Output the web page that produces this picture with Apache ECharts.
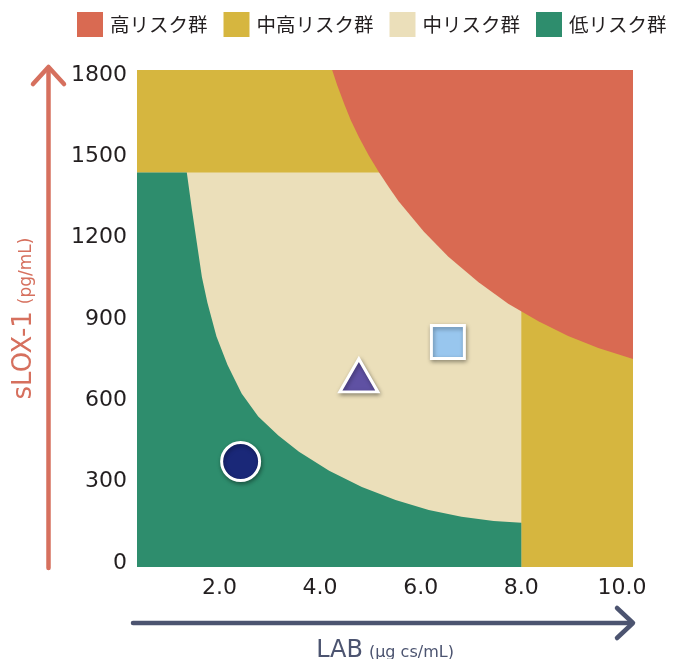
<!DOCTYPE html>
<html><head><meta charset="utf-8">
<script src="https://cdn.jsdelivr.net/npm/echarts@6/dist/echarts.min.js"></script>
<style>html,body{margin:0;padding:0;background:#fff}#c{width:674px;height:659px}</style>
</head><body><div id="c"></div>
<script>
// ---- categories / legend ----
const regionNames = ['高リスク群', '中高リスク群', '中リスク群', '低リスク群'];
const regionColors = ['#d96a52', '#d6b63f', '#ebdfba', '#2e8d6d'];

// ---- axis ----
const X_MIN = 0.36, X_MAX = 10.22, Y_MIN = -15, Y_MAX = 1818;
const xTicks = [2, 4, 6, 8, 10];
const yTicks = [0, 300, 600, 900, 1200, 1500, 1800];

// ---- region boundaries (LAB, sLOX-1) ----
const midRiskTop = 1440;      // upper limit of 中/低 risk bands
const midRiskRight = 8.0;     // LAB limit of 中/低 risk bands
const highRiskCurve = [
  [4.24, 1818], [4.34, 1762], [4.48, 1693], [4.61, 1633], [4.77, 1571],
  [4.97, 1502], [5.17, 1441], [5.37, 1385], [5.56, 1334], [6.06, 1222],
  [6.55, 1129], [7.15, 1035], [7.74, 956], [8.34, 891], [8.93, 837],
  [9.53, 793], [10.22, 752]
];
const lowRiskCurve = [
  [1.35, 1440], [1.45, 1305], [1.55, 1180], [1.65, 1055], [1.76, 960],
  [1.94, 835], [2.16, 730], [2.44, 625], [2.77, 540], [3.17, 470],
  [3.58, 410], [4.18, 340], [4.83, 280], [5.50, 232], [6.16, 195],
  [6.81, 170], [7.45, 155], [8.00, 148]
];

// ---- sample points ----
const pointX = [2.42, 4.77, 6.54];
const pointY = [374, 692, 815];
const pointSymbols = ['circle', 'triangle', 'rect'];
const pointColors = ['#1a2878', '#5f51a3', '#98c6ee'];
const pointSizes = [[38, 38], [38, 33], [33, 33]];

// polygons built from the arrays above
const polyHighMid = [[X_MIN, Y_MIN], [X_MAX, Y_MIN], [X_MAX, Y_MAX], [X_MIN, Y_MAX]];
const polyMid = [[X_MIN, Y_MIN], [midRiskRight, Y_MIN], [midRiskRight, midRiskTop], [X_MIN, midRiskTop]];
const polyLow = [[X_MIN, Y_MIN], [X_MIN, midRiskTop]].concat(lowRiskCurve, [[midRiskRight, Y_MIN]]);
const polyHigh = highRiskCurve.concat([[X_MAX, Y_MAX]]);

function regionSeries(name, color, pts, z) {
  return {
    type: 'custom', name: name, coordinateSystem: 'cartesian2d', z: z, silent: true,
    itemStyle: { color: color },
    data: [[X_MIN, Y_MIN]],
    renderItem: function (params, api) {
      return {
        type: 'polygon',
        shape: { points: pts.map(function (p) { return api.coord(p); }) },
        style: { fill: color, stroke: null }
      };
    }
  };
}

const chart = echarts.init(document.getElementById('c'), null, { renderer: 'canvas' });
const arrowRed = '#d6705e', arrowBlue = '#4c5470';

chart.setOption({
  animation: false,
  backgroundColor: '#ffffff',
  grid: { left: 137, right: 41, top: 70, bottom: 92, containLabel: false, outerBoundsMode: 'none' },
  legend: {
    data: regionNames.map(function (n) { return { name: n, icon: 'rect' }; }),
    left: 77, top: 12, padding: 0, width: 597,
    itemWidth: 26, itemHeight: 25, itemGap: 16,
    textStyle: { fontFamily: 'Noto Sans CJK JP', fontSize: 19.5, color: '#231f20', padding: [0, 0, 0, 2] },
    selectedMode: false
  },
  xAxis: {
    type: 'value', min: X_MIN, max: X_MAX,
    axisLine: { show: false }, axisTick: { show: false }, splitLine: { show: false },
    axisLabel: {
      customValues: xTicks, margin: 10,
      fontFamily: 'DejaVu Sans', fontSize: 22, color: '#231f20',
      formatter: function (v) { return v.toFixed(1); }
    },
    name: '{a|LAB}{b|(μg cs/mL)}', nameLocation: 'middle', nameGap: 72,
    nameTextStyle: {
      rich: {
        a: { fontFamily: 'DejaVu Sans', fontSize: 24, color: arrowBlue },
        b: { fontFamily: 'DejaVu Sans', fontSize: 16, color: arrowBlue, padding: [3, 0, 0, 6] }
      }
    }
  },
  yAxis: {
    type: 'value', min: Y_MIN, max: Y_MAX,
    axisLine: { show: false }, axisTick: { show: false }, splitLine: { show: false },
    axisLabel: {
      customValues: yTicks, margin: 10,
      fontFamily: 'DejaVu Sans', fontSize: 22, color: '#231f20',
      formatter: function (v) { return String(v); }
    },
    name: '{a|sLOX-1}{b|(pg/mL)}', nameLocation: 'middle', nameRotate: 90, nameGap: 100,
    nameTextStyle: {
      rich: {
        a: { fontFamily: 'DejaVu Sans', fontSize: 26, color: arrowRed },
        b: { fontFamily: 'DejaVu Sans', fontSize: 17, color: arrowRed, padding: [5, 0, 0, 7] }
      }
    }
  },
  graphic: [
    { type: 'line', shape: { x1: 48.5, y1: 568, x2: 48.5, y2: 69 }, style: { stroke: arrowRed, lineWidth: 4.5, lineCap: 'round' }, silent: true },
    { type: 'polyline', shape: { points: [[33, 84], [48.5, 67], [64, 84]] }, style: { stroke: arrowRed, lineWidth: 4.5, lineCap: 'round', lineJoin: 'round', fill: null }, silent: true },
    { type: 'line', shape: { x1: 133, y1: 623, x2: 631, y2: 623 }, style: { stroke: arrowBlue, lineWidth: 4.5, lineCap: 'round' }, silent: true },
    { type: 'polyline', shape: { points: [[617, 608], [633, 623], [617, 638]] }, style: { stroke: arrowBlue, lineWidth: 4.5, lineCap: 'round', lineJoin: 'round', fill: null }, silent: true }
  ],
  series: [
    regionSeries(regionNames[1], regionColors[1], polyHighMid, 1),
    regionSeries(regionNames[2], regionColors[2], polyMid, 2),
    regionSeries(regionNames[3], regionColors[3], polyLow, 3),
    regionSeries(regionNames[0], regionColors[0], polyHigh, 4),
    {
      type: 'scatter', name: 'points', z: 10, silent: true,
      data: pointX.map(function (x, i) {
        return {
          value: [x, pointY[i]], symbol: pointSymbols[i], symbolSize: pointSizes[i],
          itemStyle: {
            color: pointColors[i], opacity: 1, borderColor: '#ffffff', borderWidth: 3,
            shadowBlur: 4, shadowColor: 'rgba(0,0,0,0.35)', shadowOffsetX: 1, shadowOffsetY: 2
          }
        };
      })
    }
  ]
});
</script></body></html>
